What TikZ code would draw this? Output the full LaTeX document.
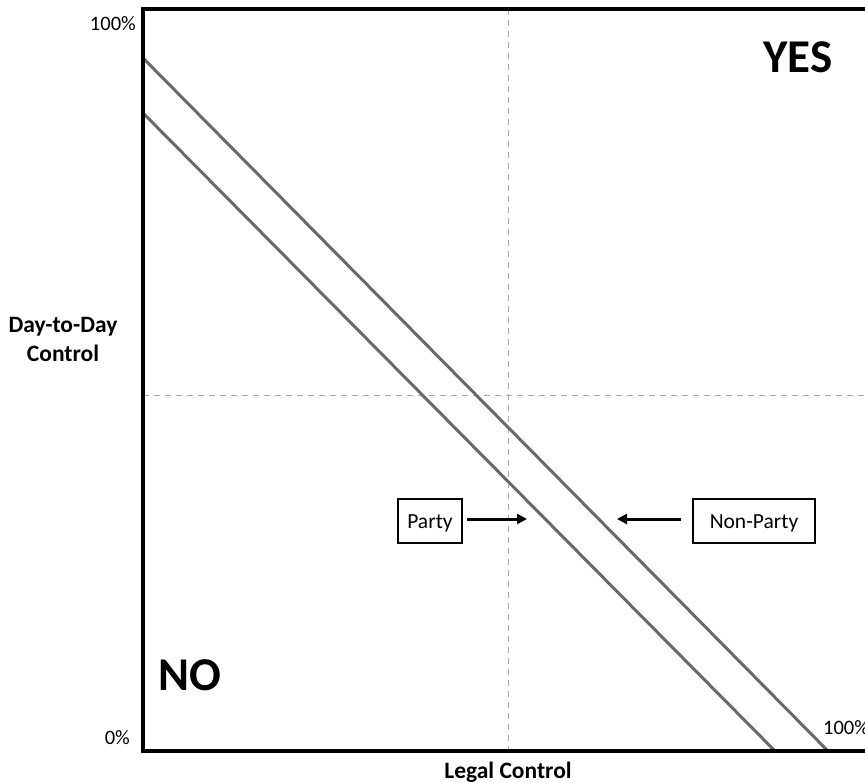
\documentclass[tikz,border=0pt]{standalone}
\usepackage{fontspec}
\setmainfont{Carlito}
\usetikzlibrary{arrows.meta}
\begin{document}
\begin{tikzpicture}[x=1pt,y=-1pt,
  frame/.style={line width=3.2pt,black},
  diag/.style={line width=3pt,draw={rgb,255:red,105;green,105;blue,105}},
  guide/.style={line width=1pt,draw={rgb,255:red,170;green,170;blue,170},dash pattern=on 6pt off 5pt},
  axl/.style={font=\fontsize{23.5}{27}\selectfont\bfseries, inner sep=0pt, align=center},
  tick/.style={font=\fontsize{20.5}{22}\selectfont, inner sep=0pt},
  big/.style={font=\fontsize{47}{50}\selectfont\bfseries, inner sep=0pt},
  tagbox/.style={draw, line width=1.5pt, inner sep=0pt, minimum height=44pt, text height=14pt, text depth=0pt, font=\fontsize{21.5}{24}\selectfont},
  arr/.style={line width=3pt, -{Triangle[length=10pt,width=10pt]}}]
\useasboundingbox (0,0) rectangle (865,783);
% guides
\draw[guide] (508,9) -- (508,751);
\draw[guide] (143,396) -- (865,396);
% diagonals
\coordinate (u1) at (143,58);
\coordinate (u2) at (828,751);
\coordinate (l1) at (143,113);
\coordinate (l2) at (775,751);
\draw[diag] (u1) -- (u2);
\draw[diag] (l1) -- (l2);
% frame
\draw[frame] (866,9) -- (143,9) -- (143,751) -- (866,751);
% ticks
\node[tick, anchor=base east] (t100) at (136,31) {100\%};
\node[tick, anchor=base east] (t0) at (130,744) {0\%};
\node[tick, anchor=base west] (t100b) at (823,734) {100\%};
% axis labels
\node[axl, anchor=base] (ddd) at (63,333) {Day-to-Day};
\node[axl, anchor=base] (ctl) at (63,362) {Control};
\node[axl, anchor=base] (legal) at (508,778) {Legal Control};
% big labels
\node[big, anchor=base] (yes) at (798,73) {YES};
\node[big, anchor=base] (no) at (190,690) {NO};
% boxes
\node[tagbox, minimum width=64pt] (party) at (430,521) {Party};
\node[tagbox, minimum width=122pt] (nonparty) at (754,521) {Non-Party};
\coordinate (pa) at (527,519);
\coordinate (na) at (617,519);
\draw[arr] (party.east |- pa) ++(4,0) -- (pa);
\draw[arr] (nonparty.west |- na) ++(-11,0) -- (na);
\end{tikzpicture}
\end{document}
